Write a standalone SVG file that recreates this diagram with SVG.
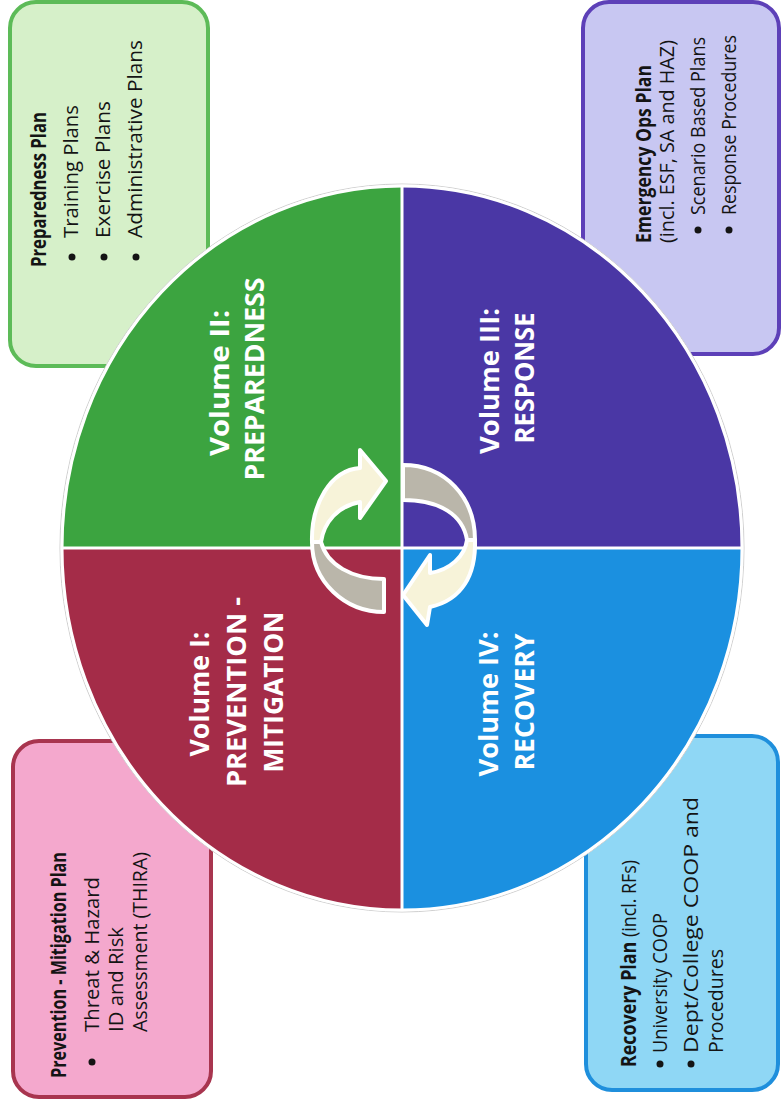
<svg xmlns="http://www.w3.org/2000/svg" width="782" height="1104" viewBox="0 0 782 1104">
<style>
.box{stroke-width:4}
.t{font-family:"Open Sans","Noto Sans","Liberation Sans",sans-serif;font-size:20.5px;fill:#141414}
.b{font-weight:bold}
.big{font-family:"Open Sans","Noto Sans","Liberation Sans",sans-serif;font-size:27px;font-weight:bold;fill:#ffffff;text-anchor:middle}
.dot{fill:#141414}
.arrow{stroke:#ffffff;stroke-width:4;stroke-linejoin:round}
.cream{fill:#f7f3d9}
.gray{fill:#bab6aa}
</style>
<rect width="782" height="1104" fill="#ffffff"/>

<g id="box-preparedness">
<rect class="box" x="10" y="2" width="198" height="364" rx="26" fill="#d6f0c9" stroke="#5dbb58"/>
<text class="t b" transform="translate(46,267) rotate(-90)" textLength="155" lengthAdjust="spacingAndGlyphs">Preparedness Plan</text>
<circle class="dot" cx="72" cy="257" r="3.5"/>
<circle class="dot" cx="104" cy="257" r="3.5"/>
<circle class="dot" cx="136" cy="257" r="3.5"/>
<text class="t" transform="translate(78,238) rotate(-90)" textLength="133" lengthAdjust="spacingAndGlyphs">Training Plans</text>
<text class="t" transform="translate(110,238) rotate(-90)" textLength="137" lengthAdjust="spacingAndGlyphs">Exercise Plans</text>
<text class="t" transform="translate(142,238) rotate(-90)" textLength="198" lengthAdjust="spacingAndGlyphs">Administrative Plans</text>
</g>

<g id="box-response">
<rect class="box" x="583" y="2" width="196" height="352" rx="26" fill="#c8c7f2" stroke="#5d40b8"/>
<text class="t b" transform="translate(651,243) rotate(-90)" textLength="178" lengthAdjust="spacingAndGlyphs">Emergency Ops Plan</text>
<text class="t" transform="translate(674,243) rotate(-90)" textLength="203" lengthAdjust="spacingAndGlyphs">(incl. ESF, SA and HAZ)</text>
<circle class="dot" cx="698" cy="230" r="3.5"/>
<circle class="dot" cx="729" cy="230" r="3.5"/>
<text class="t" transform="translate(705,215) rotate(-90)" textLength="178" lengthAdjust="spacingAndGlyphs">Scenario Based Plans</text>
<text class="t" transform="translate(736,215) rotate(-90)" textLength="180" lengthAdjust="spacingAndGlyphs">Response Procedures</text>
</g>

<g id="box-prevention">
<rect class="box" x="13" y="741" width="198" height="356" rx="26" fill="#f4a8cd" stroke="#a8354f"/>
<text class="t b" transform="translate(66,1078) rotate(-90)" textLength="226" lengthAdjust="spacingAndGlyphs">Prevention - Mitigation Plan</text>
<circle class="dot" cx="92" cy="1062" r="3.5"/>
<text class="t" transform="translate(99,1032) rotate(-90)" textLength="155" lengthAdjust="spacingAndGlyphs">Threat &amp; Hazard</text>
<text class="t" transform="translate(123,1032) rotate(-90)" textLength="105" lengthAdjust="spacingAndGlyphs">ID and Risk</text>
<text class="t" transform="translate(147,1032) rotate(-90)" textLength="180" lengthAdjust="spacingAndGlyphs">Assessment (THIRA)</text>
</g>

<g id="box-recovery">
<rect class="box" x="586" y="736" width="192" height="354" rx="26" fill="#8fd7f5" stroke="#1f8fdc"/>
<text class="t" transform="translate(636,1067) rotate(-90)" textLength="207" lengthAdjust="spacingAndGlyphs"><tspan class="b">Recovery Plan</tspan> (incl. RFs)</text>
<circle class="dot" cx="660" cy="1064" r="3.5"/>
<circle class="dot" cx="691" cy="1064" r="3.5"/>
<text class="t" transform="translate(667,1053) rotate(-90)" textLength="140" lengthAdjust="spacingAndGlyphs">University COOP</text>
<text class="t" transform="translate(698,1053) rotate(-90)" textLength="256" lengthAdjust="spacingAndGlyphs">Dept/College COOP and</text>
<text class="t" transform="translate(723,1053) rotate(-90)" textLength="104" lengthAdjust="spacingAndGlyphs">Procedures</text>
</g>

<ellipse cx="402" cy="548" rx="342" ry="364" fill="#ffffff" stroke="#cfcfcf" stroke-width="1"/>

<g id="vol-2-preparedness">
<path d="M402,548 L62,548 A340,362 0 0 1 402,186 Z" fill="#3ca440"/>
<text class="big" transform="translate(229,383) rotate(-90)" textLength="146" lengthAdjust="spacingAndGlyphs">Volume II:</text>
<text class="big" transform="translate(264,379) rotate(-90)" textLength="203" lengthAdjust="spacingAndGlyphs">PREPAREDNESS</text>
</g>

<g id="vol-3-response">
<path d="M402,548 L402,186 A340,362 0 0 1 742,548 Z" fill="#4a37a5"/>
<text class="big" transform="translate(499,381) rotate(-90)" textLength="146" lengthAdjust="spacingAndGlyphs">Volume III:</text>
<text class="big" transform="translate(534,378) rotate(-90)" textLength="131" lengthAdjust="spacingAndGlyphs">RESPONSE</text>
</g>

<g id="vol-4-recovery">
<path d="M402,548 L742,548 A340,362 0 0 1 402,910 Z" fill="#1b90e0"/>
<text class="big" transform="translate(498,704) rotate(-90)" textLength="145" lengthAdjust="spacingAndGlyphs">Volume IV:</text>
<text class="big" transform="translate(534,702) rotate(-90)" textLength="137" lengthAdjust="spacingAndGlyphs">RECOVERY</text>
</g>

<g id="vol-1-prevention">
<path d="M402,548 L402,910 A340,362 0 0 1 62,548 Z" fill="#a42c48"/>
<text class="big" transform="translate(209,694) rotate(-90)" textLength="125" lengthAdjust="spacingAndGlyphs">Volume I:</text>
<text class="big" transform="translate(246,692) rotate(-90)" textLength="190" lengthAdjust="spacingAndGlyphs">PREVENTION -</text>
<text class="big" transform="translate(283,692) rotate(-90)" textLength="161" lengthAdjust="spacingAndGlyphs">MITIGATION</text>
</g>

<g id="dividers" stroke="#ffffff" stroke-width="3">
<line x1="402" y1="186" x2="402" y2="910"/>
<line x1="62" y1="548" x2="742" y2="548"/>
<ellipse cx="402" cy="548" rx="340" ry="362" fill="none"/>
</g>

<g id="cycle-arrows">
<path class="arrow gray" d="M312,542 C312,582 345,612 384,612 L384,579 C352,579 327,565 321,542 Z"/>
<path class="arrow cream" d="M360,468 L360,450 L386,481 L360,518 L360,502 C338,506 324,522 321,542 L312,542 C311,505 330,470 360,468 Z"/>
<path class="arrow gray" d="M403,465 C445,465 475,497 475,540 L467,540 C463,515 440,500 403,500 Z"/>
<path class="arrow cream" d="M475,540 C476,575 462,600 430,607 L427,625 L403,595 L430,555 L430,573 C450,570 465,556 467,540 Z"/>
</g>
</svg>
